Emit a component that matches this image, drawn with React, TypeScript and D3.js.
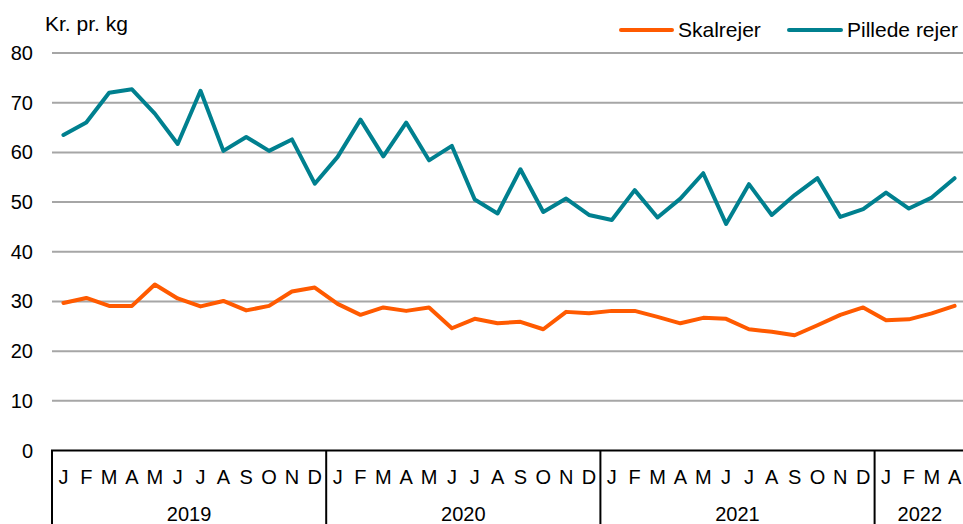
import React from "react";
import * as d3 from "d3";

const months = ["J","F","M","A","M","J","J","A","S","O","N","D"];
const years = [
  { label: "2019", count: 12 },
  { label: "2020", count: 12 },
  { label: "2021", count: 12 },
  { label: "2022", count: 4 },
];
const skalrejer = [
  29.7, 30.7, 29.1, 29.1, 33.4, 30.6, 29.0, 30.1, 28.2, 29.1, 32.0, 32.8,
  29.5, 27.3, 28.8, 28.1, 28.8, 24.6, 26.5, 25.6, 25.9, 24.4, 27.9, 27.6,
  28.1, 28.1, 26.9, 25.6, 26.7, 26.5, 24.4, 23.9, 23.2, 25.2, 27.3, 28.8,
  26.2, 26.4, 27.6, 29.1,
];
const pillede = [
  63.5, 66.0, 72.0, 72.7, 67.8, 61.7, 72.4, 60.3, 63.1, 60.3, 62.6, 53.7,
  59.1, 66.6, 59.2, 66.0, 58.4, 61.3, 50.5, 47.7, 56.6, 48.0, 50.7, 47.4,
  46.4, 52.4, 46.9, 50.7, 55.8, 45.6, 53.6, 47.4, 51.4, 54.8, 47.0, 48.6,
  51.9, 48.7, 50.9, 54.8,
];
const yTicks = [0, 10, 20, 30, 40, 50, 60, 70, 80];
const seriesNames = ["Skalrejer", "Pillede rejer"];
const colors = ["#FF5A00", "#00808F"];

const W = 963;
const H = 524;
const FONT = "'Liberation Sans', Arial, sans-serif";

export default function App() {
  const n = skalrejer.length;
  const x = d3.scaleBand<number>().domain(d3.range(n)).range([52, 966]).padding(0);
  const y = d3.scaleLinear().domain([0, 80]).range([450.5, 53]);
  const line = d3
    .line<number>()
    .x((_, i) => (x(i) as number) + x.bandwidth() / 2)
    .y((d) => y(d));

  const monthLabels = d3.range(n).map((i) => months[i % 12]);
  let acc = 0;
  const yearBlocks = years.map((yr) => {
    const start = acc;
    acc += yr.count;
    return { ...yr, start, end: acc };
  });

  const bottom = y(0);

  return (
    <svg
      width={W}
      height={H}
      style={{ position: "absolute", left: 0, top: 0, background: "#fff" }}
      fontFamily={FONT}
    >
      <rect width={W} height={H} fill="#fff" />
      {yTicks.filter((t) => t > 0).map((t) => (
        <line key={t} x1={52} x2={W} y1={y(t)} y2={y(t)} stroke="#a6a6a6" strokeWidth={2} />
      ))}
      {yTicks.map((t) => (
        <text key={"l" + t} x={33} y={y(t)} dy="0.35em" textAnchor="end" fontSize={20} fill="#000">
          {t}
        </text>
      ))}
      <text x={45} y={30.5} fontSize={21} fill="#000">Kr. pr. kg</text>

      <line x1={51} x2={W} y1={bottom} y2={bottom} stroke="#000" strokeWidth={2} />
      {yearBlocks.map((b) => (
        <line
          key={"s" + b.label}
          x1={x(b.start) as number}
          x2={x(b.start) as number}
          y1={bottom}
          y2={H}
          stroke="#000"
          strokeWidth={2}
        />
      ))}
      {monthLabels.map((m, i) => (
        <text
          key={"m" + i}
          x={(x(i) as number) + x.bandwidth() / 2}
          y={483.5}
          textAnchor="middle"
          fontSize={20}
          fill="#000"
        >
          {m}
        </text>
      ))}
      {yearBlocks.map((b) => (
        <text
          key={"y" + b.label}
          x={((x(b.start) as number) + Math.min((x(b.end - 1) as number) + x.bandwidth(), W)) / 2 + (b.label === "2022" ? 1 : 0)}
          y={521}
          textAnchor="middle"
          fontSize={20}
          fill="#000"
        >
          {b.label}
        </text>
      ))}

      <path d={line(skalrejer) || ""} fill="none" stroke={colors[0]} strokeWidth={4} strokeLinejoin="round" strokeLinecap="round" />
      <path d={line(pillede) || ""} fill="none" stroke={colors[1]} strokeWidth={4} strokeLinejoin="round" strokeLinecap="round" />

      <line x1={621} x2={672} y1={30} y2={30} stroke={colors[0]} strokeWidth={4} strokeLinecap="round" />
      <text x={678} y={36.5} fontSize={21} fill="#000">{seriesNames[0]}</text>
      <line x1={789} x2={841} y1={30} y2={30} stroke={colors[1]} strokeWidth={4} strokeLinecap="round" />
      <text x={847} y={36.5} fontSize={21} fill="#000">{seriesNames[1]}</text>
    </svg>
  );
}
